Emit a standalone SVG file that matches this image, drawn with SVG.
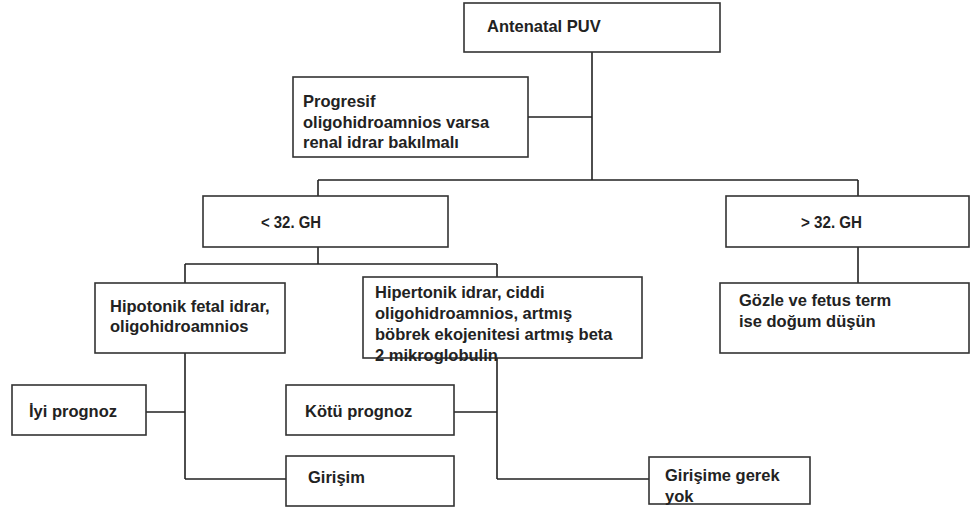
<svg xmlns="http://www.w3.org/2000/svg" width="971" height="513" viewBox="0 0 971 513">
<style>
.box{fill:#fff;stroke:#333;stroke-width:1.6}
.ln{fill:none;stroke:#222;stroke-width:1.6}
.t{font-family:"Liberation Sans",Arial,sans-serif;font-size:16.5px;font-weight:bold;fill:#222}
.n{font-family:"Liberation Sans",Arial,sans-serif;font-size:17px;font-weight:bold;fill:#222}
</style>
<rect width="971" height="513" fill="#fff"/>
<g id="connectors">
<path class="ln" d="M592,52V180M528,117H592M318,180H858M318,180V196M858,180V196M318,247V264M185,264H497M185,264V283M497,264V277M858,247V283M185,353V479M146,412H185M185,479H286M497,358V479M454,412H497M497,479H649"/>
</g>
<g id="antenatal"><rect class="box" x="464" y="3" width="256" height="49"/><text class="t" x="487" y="32">Antenatal PUV</text></g>
<g id="progresif"><rect class="box" x="293" y="77" width="235" height="80"/><text class="t" x="303" y="107">Progresif</text><text class="t" x="303" y="127.5">oligohidroamnios varsa</text><text class="t" x="303" y="148">renal idrar bakılmalı</text></g>
<g id="lt32"><rect class="box" x="203" y="196" width="245" height="51"/><text class="n" x="261" y="228" textLength="60" lengthAdjust="spacingAndGlyphs">&lt; 32. GH</text></g>
<g id="gt32"><rect class="box" x="726" y="196" width="243" height="51"/><text class="n" x="801" y="228" textLength="61" lengthAdjust="spacingAndGlyphs">&gt; 32. GH</text></g>
<g id="hipotonik"><rect class="box" x="95" y="283" width="190" height="70"/><text class="t" x="110" y="312">Hipotonik fetal idrar,</text><text class="t" x="110" y="332">oligohidroamnios</text></g>
<g id="hipertonik"><rect class="box" x="363" y="277" width="279" height="81"/><text class="t" x="375" y="298">Hipertonik idrar, ciddi</text><text class="t" x="375" y="319">oligohidroamnios, artmış</text><text class="t" x="375" y="340">böbrek ekojenitesi artmış beta</text><text class="t" x="375" y="361">2 mikroglobulin</text></g>
<g id="gozle"><rect class="box" x="720" y="283" width="249" height="70"/><text class="t" x="739" y="306">Gözle ve fetus term</text><text class="t" x="739" y="327">ise doğum düşün</text></g>
<g id="iyi"><rect class="box" x="12" y="385" width="134" height="50"/><text class="t" x="29" y="417">İyi prognoz</text></g>
<g id="kotu"><rect class="box" x="286" y="385" width="168" height="50"/><text class="t" x="305" y="417">Kötü prognoz</text></g>
<g id="girisim"><rect class="box" x="286" y="456" width="168" height="50"/><text class="t" x="308" y="483">Girişim</text></g>
<g id="girisime"><rect class="box" x="649" y="457" width="161" height="47"/><text class="t" x="665" y="481">Girişime gerek</text><text class="t" x="665" y="502">yok</text></g>
</svg>
